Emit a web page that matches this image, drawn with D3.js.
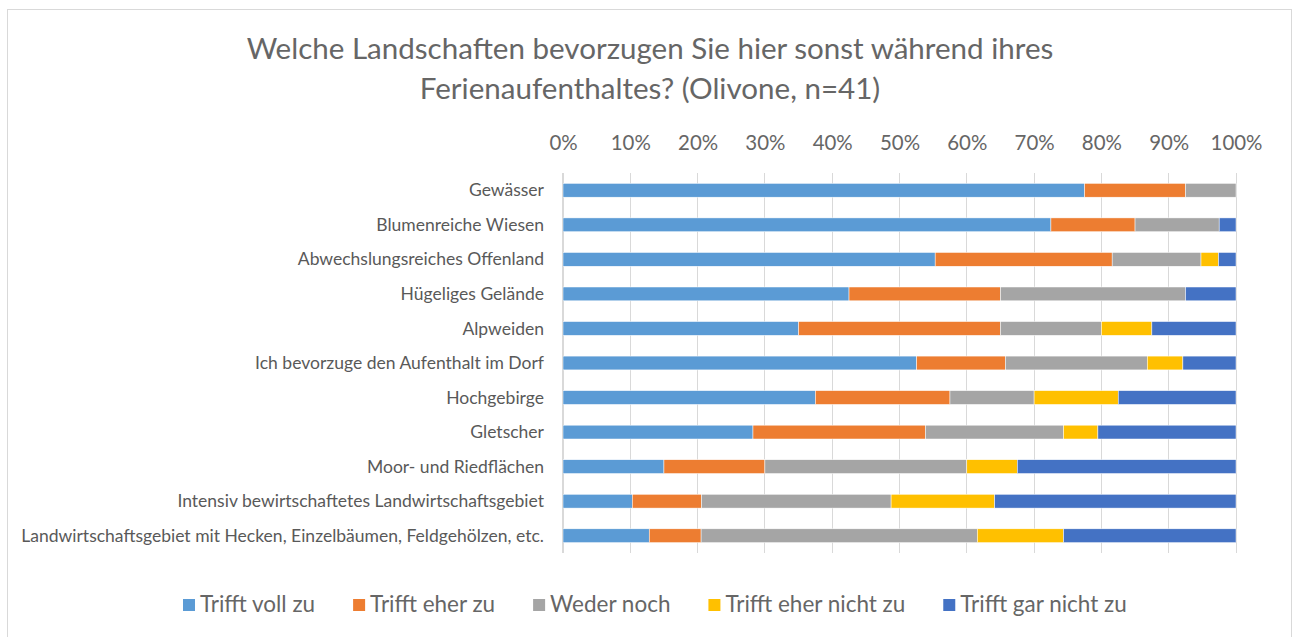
<!DOCTYPE html>
<html><head><meta charset="utf-8">
<script src="https://cdn.jsdelivr.net/npm/d3@7"></script>
<style>body{margin:0;background:#fff;} svg{display:block;}</style>
</head><body>
<svg id="chart" width="1298" height="637"></svg>
<script>
const titleLines = ["Welche Landschaften bevorzugen Sie hier sonst während ihres", "Ferienaufenthaltes? (Olivone, n=41)"];
const categories = ["Gewässer","Blumenreiche Wiesen","Abwechslungsreiches Offenland","Hügeliges Gelände","Alpweiden","Ich bevorzuge den Aufenthalt im Dorf","Hochgebirge","Gletscher","Moor- und Riedflächen","Intensiv bewirtschaftetes Landwirtschaftsgebiet","Landwirtschaftsgebiet mit Hecken, Einzelbäumen, Feldgehölzen, etc."];
const seriesNames = ["Trifft voll zu","Trifft eher zu","Weder noch","Trifft eher nicht zu","Trifft gar nicht zu"];
const trifftVoll = [77.5, 72.5, 55.3, 42.5, 35.0, 52.6, 37.5, 28.2, 15.0, 10.3, 12.8];
const trifftEher = [15.0, 12.5, 26.3, 22.5, 30.0, 13.2, 20.0, 25.6, 15.0, 10.3, 7.7];
const wederNoch = [7.5, 12.5, 13.2, 27.5, 15.0, 21.1, 12.5, 20.5, 30.0, 28.2, 41.0];
const eherNicht = [0, 0, 2.6, 0, 7.5, 5.3, 12.5, 5.1, 7.5, 15.4, 12.8];
const garNicht = [0, 2.5, 2.6, 7.5, 12.5, 7.9, 17.5, 20.5, 32.5, 35.9, 25.6];
const tickValues = [0,0.1,0.2,0.3,0.4,0.5,0.6,0.7,0.8,0.9,1.0];
const colors = ["#5B9BD5","#ED7D31","#A5A5A5","#FFC000","#4472C4"];

const seriesValues = [trifftVoll, trifftEher, wederNoch, eherNicht, garNicht];
const rows = categories.map((c,i)=>{const o={cat:c}; seriesNames.forEach((s,j)=>o[s]=seriesValues[j][i]); return o;});

const FONT = "Lato, 'Open Sans', sans-serif";
const TXT = "#595959";
const svg = d3.select("#chart");

function fit(sel, target){
  sel.attr("font-size", 100);
  const w = sel.node().getComputedTextLength();
  return 100*target/w;
}

// border
svg.append("rect").attr("x",7.5).attr("y",9.5).attr("width",1284).attr("height",640)
  .attr("fill","#fff").attr("stroke","#d9d9d9").attr("stroke-width",1);

const x = d3.scaleLinear().domain([0,1]).range([563, 1236]);
const y = d3.scaleBand().domain(categories).range([173, 553]).paddingInner(0.6).paddingOuter(0.3);

// title
const tmp = svg.append("text").attr("font-family",FONT).text(titleLines[0]);
const titleSize = fit(tmp, 807); tmp.remove();
svg.selectAll("text.title").data(titleLines).join("text").attr("class","title")
  .attr("x",650).attr("y",(d,i)=>59+i*40).attr("text-anchor","middle")
  .attr("font-family",FONT).attr("font-size",titleSize).attr("fill","#666").text(d=>d);

// gridlines
svg.append("g").selectAll("line").data(tickValues).join("line")
  .attr("x1",d=>x(d)).attr("x2",d=>x(d)).attr("y1",173).attr("y2",553)
  .attr("stroke","#d9d9d9").attr("stroke-width",1).attr("shape-rendering","crispEdges");

// top axis
const tmp2 = svg.append("text").attr("font-family",FONT).text("100%");
const tickSize = fit(tmp2, 52); tmp2.remove();
const ax = svg.append("g").attr("transform","translate(0,150)")
  .call(d3.axisTop(x).tickValues(tickValues).tickFormat(d3.format(".0%")).tickSize(0).tickPadding(0));
ax.select(".domain").remove();
ax.selectAll("text").attr("font-family",FONT).attr("font-size",tickSize).attr("fill","#666");

// bars
const stack = d3.stack().keys(seriesNames).offset(d3.stackOffsetExpand)(rows);
svg.append("g").selectAll("g").data(stack).join("g").attr("fill",(d,i)=>colors[i])
  .selectAll("rect").data(d=>d).join("rect")
  .attr("x",d=>x(d[0])).attr("width",d=>Math.max(0,x(d[1])-x(d[0])))
  .attr("y",d=>y(d.data.cat)).attr("height",y.bandwidth())
  .attr("stroke","#fff").attr("stroke-width",0.5);

// left axis line
svg.append("line").attr("x1",562.5).attr("x2",562.5).attr("y1",173).attr("y2",553)
  .attr("stroke","#d9d9d9").attr("stroke-width",1);

// category labels
const tmp3 = svg.append("text").attr("font-family",FONT).text(categories[categories.length-1]);
const catSize = fit(tmp3, 523); tmp3.remove();
svg.append("g").selectAll("text").data(categories).join("text")
  .attr("x",544).attr("y",d=>y(d)+y.bandwidth()/2).attr("dy","0.35em")
  .attr("text-anchor","end").attr("font-family",FONT).attr("font-size",catSize).attr("fill",TXT).text(d=>d);

// legend
const tmp4 = svg.append("text").attr("font-family",FONT).text(seriesNames[3]);
const legSize = fit(tmp4, 180); tmp4.remove();
const lg = svg.append("g");
let lx = 183;
seriesNames.forEach((s,i)=>{
  const g = lg.append("g");
  g.append("rect").attr("x",lx).attr("y",599).attr("width",12).attr("height",12).attr("fill",colors[i]);
  const t = g.append("text").attr("x",lx+17).attr("y",612).attr("font-family",FONT).attr("font-size",legSize).attr("fill","#666").text(s);
  lx += 17 + t.node().getComputedTextLength() + 38;
});
</script>
</body></html>
